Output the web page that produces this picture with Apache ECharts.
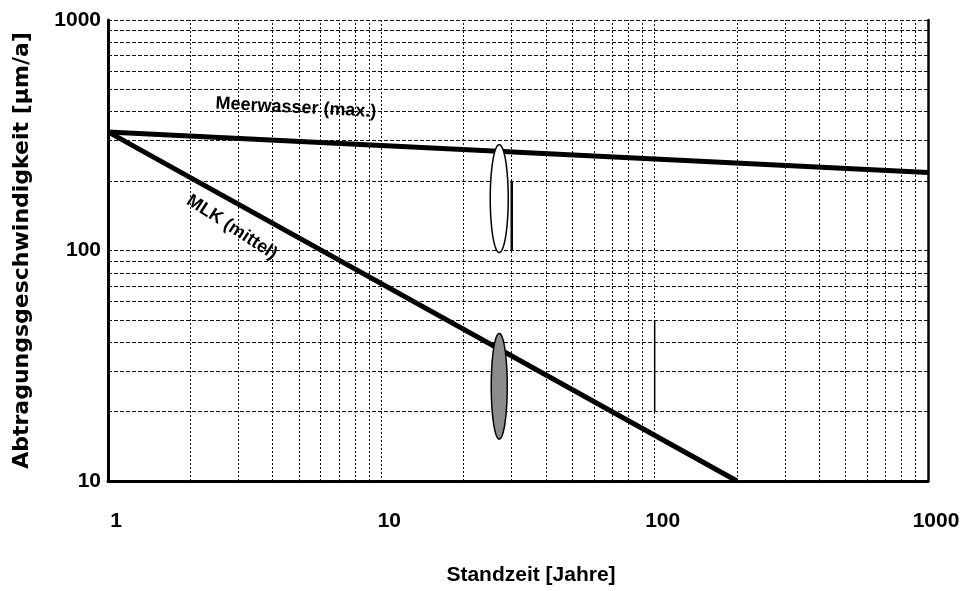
<!DOCTYPE html>
<html>
<head>
<meta charset="utf-8">
<script src="https://cdn.jsdelivr.net/npm/echarts@6/dist/echarts.min.js"></script>
<style>
html,body{margin:0;padding:0;background:#fff;}
#chart{width:963px;height:591px;}
</style>
</head>
<body>
<div id="chart"></div>
<script>
// ---- data ----
const xTicks = [1, 10, 100, 1000];
const yTicks = [10, 100, 1000];
const xMinorGrid = [2, 3, 4, 5, 6, 7, 8, 9, 20, 30, 40, 50, 60, 70, 80, 90, 200, 300, 400, 500, 600, 700, 800, 900];
const yMinorGrid = [20, 30, 40, 50, 60, 70, 80, 90, 200, 300, 400, 500, 600, 700, 800, 900];

const meerX = [1, 1000];
const meerY = [327, 218];
const mlkX = [1, 200];
const mlkY = [327, 10];

// ellipse ranges: [x, low, high]
const openEllipse = [27, 98, 288];
const filledEllipse = [27, 15.2, 43.7];

// vertical range bars
const barX = [30, 100];
const barLow = [100, 20];
const barHigh = [200, 50];

// line labels
const labelText = ['Meerwasser (max.)', 'MLK (mittel)'];
const labelX = [4.87, 2.84];
const labelY = [416, 126];
const labelRot = [-3, -33];

// ---- chart ----
const chart = echarts.init(document.getElementById('chart'), null, {renderer: 'canvas'});
const FONT = '"Liberation Sans", Arial, sans-serif';

function fmt(v) { return String(Math.round(v)); }

function ellipseRender(width, fill) {
  return function (params, api) {
    const x = api.value(0), lo = api.value(1), hi = api.value(2);
    const pTop = api.coord([x, hi]);
    const pBot = api.coord([x, lo]);
    const cx = pTop[0];
    const cy = (pTop[1] + pBot[1]) / 2;
    const ry = (pBot[1] - pTop[1]) / 2;
    const rx = width / 2;
    const pts = [];
    for (let i = 0; i < 90; i++) {
      const a = i / 90 * Math.PI * 2;
      pts.push([cx + rx * Math.cos(a), cy + ry * Math.sin(a)]);
    }
    return {
      type: 'polygon',
      shape: {points: pts},
      style: {fill: fill, stroke: '#000', lineWidth: 1.5}
    };
  };
}

function labelRender(params, api) {
  const i = params.dataIndex;
  const p = api.coord([api.value(0), api.value(1)]);
  return {
    type: 'text',
    x: p[0],
    y: p[1],
    rotation: labelRot[i] * Math.PI / 180,
    style: {
      text: labelText[i],
      fill: '#000',
      font: 'bold 18px ' + FONT,
      align: 'center',
      verticalAlign: 'middle'
    }
  };
}

const vGridLines = xMinorGrid.map(v => ({xAxis: v}));
const hGridLines = yMinorGrid.map(v => ({yAxis: v}));

const option = {
  backgroundColor: '#fff',
  animation: false,
  grid: {left: 108, right: 35, top: 20, bottom: 109, containLabel: false},
  xAxis: {
    type: 'log',
    logBase: 10,
    min: xTicks[0],
    max: xTicks[xTicks.length - 1],
    name: 'Standzeit [Jahre]',
    nameLocation: 'middle',
    nameGap: 84,
    nameTextStyle: {fontFamily: FONT, fontWeight: 'bold', fontSize: 21, color: '#000', padding: [0, 0, 0, 26]},
    axisLine: {show: true, lineStyle: {color: '#000', width: 3}},
    axisTick: {show: false},
    axisLabel: {
      fontFamily: FONT, fontWeight: 'bold', fontSize: 21, color: '#000',
      margin: 30, padding: [0, 0, 0, 16],
      formatter: fmt
    },
    splitLine: {show: true, lineStyle: {color: '#111', type: [2, 2], width: 1}}
  },
  yAxis: [{
    type: 'log',
    logBase: 10,
    min: yTicks[0],
    max: yTicks[yTicks.length - 1],
    name: 'Abtragungsgeschwindigkeit [µm/a]',
    nameLocation: 'middle',
    nameGap: 75,
    nameTextStyle: {fontFamily: '"DejaVu Sans", sans-serif', fontWeight: 'bold', fontSize: 22, color: '#000'},
    axisLine: {show: true, lineStyle: {color: '#000', width: 3}},
    axisTick: {show: false},
    axisLabel: {
      fontFamily: FONT, fontWeight: 'bold', fontSize: 21, color: '#000',
      margin: 7, formatter: fmt
    },
    splitLine: {show: true, lineStyle: {color: '#111', type: [4, 2], width: 1}}
  }, {
    type: 'log',
    logBase: 10,
    min: yTicks[0],
    max: yTicks[yTicks.length - 1],
    position: 'right',
    axisLine: {show: true, lineStyle: {color: '#000', width: 2.5}},
    axisTick: {show: false},
    axisLabel: {show: false},
    splitLine: {show: false}
  }],
  series: [
    {
      type: 'line',
      data: [],
      silent: true,
      z: 1,
      markLine: {
        silent: true,
        symbol: 'none',
        label: {show: false},
        animation: false,
        data: vGridLines,
        lineStyle: {color: '#111', type: [2, 2], width: 1}
      }
    },
    {
      type: 'line',
      data: [],
      silent: true,
      z: 1,
      markLine: {
        silent: true,
        symbol: 'none',
        label: {show: false},
        animation: false,
        data: hGridLines,
        lineStyle: {color: '#111', type: [4, 2], width: 1}
      }
    },
    {
      name: 'Meerwasser (max.)',
      type: 'line',
      data: meerX.map((x, i) => [x, meerY[i]]),
      showSymbol: false,
      z: 3,
      lineStyle: {color: '#000', width: 5}
    },
    {
      name: 'MLK (mittel)',
      type: 'line',
      data: mlkX.map((x, i) => [x, mlkY[i]]),
      showSymbol: false,
      z: 3,
      lineStyle: {color: '#000', width: 5}
    },
    {
      type: 'line',
      data: [[barX[0], barLow[0]], [barX[0], barHigh[0]]],
      showSymbol: false,
      z: 3,
      lineStyle: {color: '#000', width: 2.5}
    },
    {
      type: 'line',
      data: [[barX[1], barLow[1]], [barX[1], barHigh[1]]],
      showSymbol: false,
      z: 3,
      lineStyle: {color: '#000', width: 1.5}
    },
    {
      type: 'custom',
      z: 5,
      renderItem: ellipseRender(18, '#fff'),
      encode: {x: 0, y: [1, 2]},
      data: [openEllipse]
    },
    {
      type: 'custom',
      z: 5,
      renderItem: ellipseRender(16, '#8c8c8c'),
      encode: {x: 0, y: [1, 2]},
      data: [filledEllipse]
    },
    {
      type: 'custom',
      z: 6,
      renderItem: labelRender,
      encode: {x: 0, y: 1},
      data: labelX.map((x, i) => [x, labelY[i]])
    }
  ]
};
chart.setOption(option);
</script>
</body>
</html>
